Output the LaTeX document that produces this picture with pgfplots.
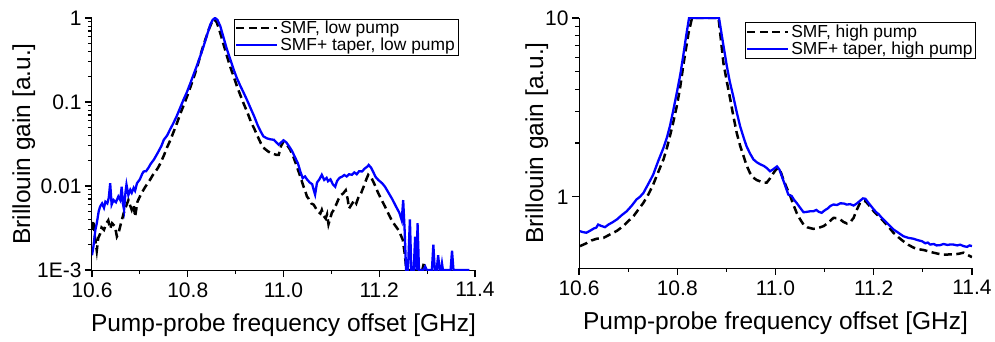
\documentclass[border=0pt]{standalone}
\usepackage{fontspec}
\setmainfont{Liberation Sans}
\usepackage{pgfplots}
\pgfplotsset{compat=1.18}

\tikzset{
  blk/.style={black, line width=2.5bp, dash pattern=on 8bp off 4.5bp},
  blu/.style={blue, line width=2.3bp},
}
\pgfplotsset{
  every axis/.append style={
    scale only axis,
    xmin=10.6, xmax=11.4,
    axis x line=bottom, axis y line=left,
    axis line style={-, line width=1bp},
    xtick={10.6,10.8,11.0,11.2,11.4},
    xticklabels={10.6,10.8,11.0,11.2,11.4},
    minor xtick={10.7,10.9,11.1,11.3},
    tick label style={font=\fontsize{21bp}{24bp}\selectfont},
    xticklabel style={yshift=-2bp},
    label style={font=\fontsize{24.5bp}{28bp}\selectfont},
    xlabel={Pump-probe frequency offset [GHz]},
    ylabel={Brillouin gain [a.u.]},
    xlabel style={yshift=-10bp},
    legend cell align=left,
    legend image code/.code={\draw[#1, line width=2bp] (0bp,0bp) -- (41bp,0bp);},
    legend style={font=\fontsize{17.4bp}{20bp}\selectfont, draw=black, line width=0.6bp,
      inner xsep=1bp, inner ysep=0.5bp, row sep=-1bp},
  }
}

\begin{document}
\begin{tikzpicture}
\useasboundingbox (-92bp,-72bp) rectangle (903bp,270bp);
\begin{semilogyaxis}[width=383bp, height=252bp,
  ymin=0.001, ymax=1,
  tick align=outside, major tick length=7bp, minor tick length=4bp,
  tick style={black, line width=1.1bp},
  ytick={0.001,0.01,0.1,1}, yticklabels={1E-3,0.01,0.1,1},
  ylabel style={yshift=-5bp},
  legend style={at={(0.956,0.998)}, anchor=north east}]
\addplot[blk] coordinates {
(10.600,0.0030) (10.603,0.0039) (10.606,0.0025) (10.610,0.0017) (10.613,0.0024) (10.617,0.0027)
(10.620,0.0032) (10.625,0.0030) (10.630,0.0036) (10.634,0.0039) (10.638,0.0031) (10.642,0.0036)
(10.648,0.0033) (10.652,0.0025) (10.655,0.0027) (10.660,0.0035) (10.666,0.0047) (10.670,0.0055)
(10.676,0.0068) (10.680,0.0058) (10.683,0.0052) (10.687,0.0060) (10.690,0.0043) (10.695,0.0065)
(10.700,0.0075) (10.705,0.0085) (10.710,0.0095) (10.715,0.0105) (10.721,0.0118) (10.727,0.0135)
(10.733,0.0150) (10.738,0.0165) (10.743,0.0187) (10.750,0.0230) (10.757,0.0290) (10.764,0.0355)
(10.771,0.045) (10.778,0.057) (10.785,0.074) (10.792,0.093) (10.799,0.118) (10.806,0.153)
(10.813,0.200) (10.820,0.265) (10.826,0.35) (10.832,0.46) (10.838,0.58) (10.844,0.73)
(10.850,0.88) (10.855,0.96) (10.860,0.90) (10.864,0.78) (10.868,0.66) (10.875,0.48)
(10.882,0.35) (10.889,0.26) (10.896,0.200) (10.903,0.153) (10.910,0.120) (10.917,0.095)
(10.925,0.074) (10.932,0.058) (10.939,0.048) (10.946,0.039) (10.953,0.032) (10.960,0.028)
(10.967,0.026) (10.974,0.0245) (10.980,0.0240) (10.985,0.0235) (10.990,0.0235) (10.995,0.030)
(11.000,0.034) (11.007,0.031) (11.014,0.027) (11.021,0.022) (11.028,0.017) (11.035,0.013)
(11.042,0.0098) (11.046,0.0085) (11.049,0.0075) (11.053,0.0070) (11.058,0.0062) (11.063,0.0060)
(11.067,0.0055) (11.071,0.0050) (11.077,0.0047) (11.080,0.0052) (11.084,0.0044) (11.088,0.0041)
(11.091,0.0046) (11.094,0.0035) (11.098,0.0042) (11.101,0.0048) (11.105,0.0052) (11.110,0.0060)
(11.115,0.0070) (11.120,0.0078) (11.125,0.0082) (11.130,0.0089) (11.134,0.0070) (11.137,0.0054)
(11.142,0.0060) (11.148,0.0068) (11.152,0.0062) (11.156,0.0072) (11.162,0.0082) (11.168,0.0100)
(11.173,0.0120) (11.177,0.0136) (11.181,0.0130) (11.184,0.0124) (11.190,0.0105) (11.198,0.0082)
(11.205,0.0068) (11.212,0.0057) (11.219,0.0047) (11.226,0.0039) (11.233,0.0034) (11.240,0.0030)
(11.245,0.0026) (11.249,0.0023) (11.253,0.0016) (11.256,0.0011) (11.260,0.0010) (11.290,0.0010)
(11.293,0.0012) (11.296,0.0010) (11.300,0.0010)
};
\addlegendentry{SMF, low pump}
\addplot[blu] coordinates {
(10.600,0.0015) (10.603,0.0019) (10.607,0.0030) (10.610,0.0036) (10.614,0.0050) (10.617,0.0057)
(10.621,0.0062) (10.625,0.0055) (10.628,0.0065) (10.632,0.0062) (10.635,0.0072) (10.638,0.0108)
(10.641,0.0060) (10.645,0.0068) (10.650,0.0064) (10.655,0.0075) (10.659,0.0068) (10.662,0.0098)
(10.665,0.0060) (10.667,0.0052) (10.670,0.0085) (10.672,0.0104) (10.676,0.0078) (10.680,0.0090)
(10.683,0.0083) (10.687,0.0095) (10.690,0.0088) (10.694,0.0108) (10.700,0.0120) (10.705,0.0140)
(10.708,0.0149) (10.713,0.0150) (10.718,0.0165) (10.723,0.0185) (10.729,0.0205) (10.735,0.0235)
(10.740,0.0265) (10.745,0.0300) (10.750,0.0355) (10.757,0.040) (10.763,0.047) (10.770,0.056)
(10.777,0.068) (10.784,0.085) (10.791,0.106) (10.798,0.130) (10.805,0.165) (10.812,0.211)
(10.819,0.27) (10.826,0.35) (10.833,0.46) (10.840,0.62) (10.847,0.83) (10.852,0.95)
(10.857,1.0) (10.862,0.95) (10.868,0.80) (10.875,0.58) (10.882,0.42) (10.889,0.32)
(10.896,0.242) (10.903,0.19) (10.910,0.155) (10.917,0.128) (10.924,0.105) (10.931,0.085)
(10.939,0.067) (10.946,0.053) (10.952,0.045) (10.958,0.039) (10.965,0.037) (10.972,0.036)
(10.980,0.0355) (10.985,0.033) (10.990,0.031) (10.995,0.033) (11.000,0.035) (11.006,0.033)
(11.012,0.0295) (11.018,0.026) (11.024,0.022) (11.030,0.0187) (11.035,0.0150) (11.040,0.0124)
(11.045,0.0130) (11.050,0.0118) (11.055,0.0110) (11.060,0.0105) (11.063,0.0090) (11.066,0.0079)
(11.070,0.0110) (11.075,0.0120) (11.080,0.0136) (11.085,0.0118) (11.090,0.0125) (11.093,0.0114)
(11.098,0.0120) (11.103,0.0105) (11.108,0.0098) (11.112,0.0115) (11.117,0.0125) (11.122,0.0129)
(11.127,0.0135) (11.132,0.0130) (11.137,0.0138) (11.143,0.0136) (11.148,0.0145) (11.153,0.0138)
(11.158,0.0150) (11.164,0.0149) (11.170,0.0162) (11.175,0.0170) (11.178,0.0178) (11.183,0.0165)
(11.188,0.0145) (11.192,0.0129) (11.198,0.0118) (11.206,0.0108) (11.212,0.0098) (11.220,0.0082)
(11.227,0.0070) (11.235,0.0057) (11.242,0.0048) (11.247,0.0039) (11.250,0.0068) (11.253,0.0030)
(11.256,0.0010) (11.260,0.0010) (11.264,0.0040) (11.267,0.0010) (11.272,0.0010) (11.275,0.0025)
(11.278,0.0010) (11.280,0.0036) (11.283,0.0010) (11.292,0.0010) (11.296,0.0011) (11.299,0.0010)
(11.310,0.0010) (11.313,0.0020) (11.316,0.0010) (11.320,0.0010) (11.323,0.0015) (11.326,0.0010)
(11.329,0.0010) (11.331,0.0012) (11.333,0.0010) (11.349,0.0010) (11.352,0.0017) (11.355,0.0010)
(11.388,0.0010)
};
\addlegendentry{SMF+ taper, low pump}
\end{semilogyaxis}

\begin{semilogyaxis}[at={(487bp,2bp)}, anchor=south west, width=393bp, height=250bp,
  ymin=0.4, ymax=10,
  tick align=outside, major tick length=7bp, minor tick length=4bp,
  tick style={black, line width=1.1bp},
  ytick={1,10}, yticklabels={1,10},
  ylabel style={yshift=-10bp},
  legend style={at={(1.01,0.985)}, anchor=north east}]
\addplot[blk] coordinates {
(10.602,0.53) (10.615,0.55) (10.625,0.57) (10.636,0.583) (10.650,0.59) (10.663,0.616)
(10.677,0.645) (10.690,0.686) (10.700,0.73) (10.711,0.78) (10.721,0.85) (10.731,0.925)
(10.741,1.03) (10.751,1.17) (10.761,1.37) (10.772,1.62) (10.779,1.88) (10.785,2.18)
(10.792,2.62) (10.799,3.21) (10.806,4.1) (10.812,5.37) (10.818,6.8) (10.823,8.24)
(10.830,10) (10.884,10) (10.889,7.5) (10.894,5.6) (10.901,4.4) (10.908,3.5)
(10.914,2.85) (10.921,2.28) (10.928,1.93) (10.935,1.69) (10.941,1.50) (10.948,1.36)
(10.955,1.28) (10.962,1.24) (10.969,1.22) (10.975,1.20) (10.982,1.20) (10.989,1.27)
(10.996,1.36) (11.001,1.42) (11.006,1.45) (11.011,1.37) (11.016,1.25) (11.023,1.12)
(11.030,1.01) (11.036,0.91) (11.043,0.814) (11.050,0.75) (11.057,0.70) (11.065,0.675)
(11.077,0.662) (11.087,0.67) (11.098,0.686) (11.108,0.72) (11.118,0.763) (11.125,0.76)
(11.132,0.747) (11.138,0.725) (11.145,0.71) (11.152,0.72) (11.159,0.763) (11.165,0.84)
(11.172,0.925) (11.178,0.95) (11.183,0.946) (11.190,0.90) (11.200,0.83) (11.210,0.78)
(11.220,0.73) (11.230,0.68) (11.240,0.63) (11.250,0.595) (11.260,0.565) (11.270,0.54)
(11.281,0.52) (11.290,0.51) (11.302,0.504) (11.312,0.495) (11.322,0.487) (11.332,0.48)
(11.342,0.475) (11.352,0.476) (11.362,0.476) (11.372,0.48) (11.383,0.487) (11.392,0.472)
(11.400,0.46)
};
\addlegendentry{SMF, high pump}
\addplot[blu] coordinates {
(10.602,0.643) (10.608,0.635) (10.615,0.63) (10.622,0.645) (10.630,0.665) (10.635,0.672)
(10.639,0.70) (10.645,0.688) (10.653,0.677) (10.660,0.70) (10.668,0.72) (10.677,0.747)
(10.687,0.79) (10.697,0.83) (10.707,0.89) (10.717,0.966) (10.724,1.00) (10.731,1.05)
(10.741,1.18) (10.751,1.33) (10.761,1.58) (10.772,1.88) (10.779,2.15) (10.785,2.48)
(10.792,3.05) (10.799,3.81) (10.806,4.8) (10.812,6.1) (10.818,7.9) (10.824,10)
(10.885,10) (10.893,7.3) (10.901,5.37) (10.907,4.4) (10.914,3.65) (10.921,2.98)
(10.928,2.48) (10.935,2.15) (10.941,1.92) (10.948,1.75) (10.955,1.62) (10.962,1.56)
(10.969,1.52) (10.976,1.49) (10.982,1.45) (10.989,1.39) (10.996,1.43) (11.003,1.48)
(11.008,1.42) (11.013,1.30) (11.020,1.15) (11.026,1.03) (11.033,1.01) (11.038,0.96)
(11.043,0.925) (11.050,0.87) (11.057,0.82) (11.065,0.825) (11.070,0.83) (11.077,0.83)
(11.083,0.845) (11.088,0.825) (11.094,0.814) (11.100,0.84) (11.106,0.86) (11.112,0.89)
(11.118,0.906) (11.125,0.90) (11.132,0.92) (11.139,0.918) (11.145,0.905) (11.152,0.91)
(11.159,0.894) (11.166,0.92) (11.172,0.95) (11.178,0.98) (11.183,0.975) (11.190,0.92)
(11.200,0.85) (11.205,0.82) (11.210,0.80) (11.215,0.77) (11.220,0.747) (11.230,0.70)
(11.240,0.657) (11.250,0.63) (11.260,0.603) (11.270,0.59) (11.281,0.583) (11.290,0.572)
(11.298,0.565) (11.305,0.55) (11.310,0.555) (11.315,0.541) (11.322,0.545) (11.328,0.535)
(11.335,0.537) (11.342,0.545) (11.350,0.538) (11.356,0.542) (11.362,0.541) (11.370,0.535)
(11.376,0.540) (11.383,0.53) (11.390,0.525) (11.395,0.535) (11.400,0.53)
};
\addlegendentry{SMF+ taper, high pump}
\end{semilogyaxis}
\end{tikzpicture}
\end{document}
